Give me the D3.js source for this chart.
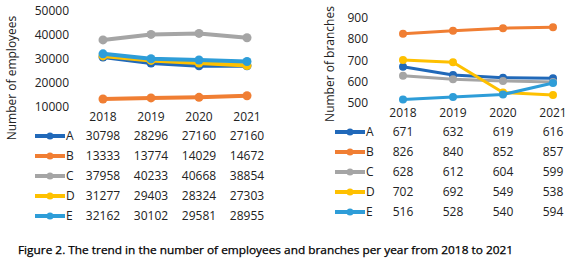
<!DOCTYPE html>
<html>
<head>
<meta charset="utf-8">
<script src="https://cdn.jsdelivr.net/npm/d3@7"></script>
<style>
  body { margin: 0; background: #fff; }
  text { font-family: "Open Sans", "Liberation Sans", sans-serif; fill: #222; }
</style>
</head>
<body>
<svg id="svg"></svg>
<script>
const years = ["2018", "2019", "2020", "2021"];
const seriesNames = ["A", "B", "C", "D", "E"];
const colors = ["#2169b9", "#f07e33", "#a5a5a5", "#fec000", "#2e9dd8"];

const employeesA = [30798, 28296, 27160, 27160];
const employeesB = [13333, 13774, 14029, 14672];
const employeesC = [37958, 40233, 40668, 38854];
const employeesD = [31277, 29403, 28324, 27303];
const employeesE = [32162, 30102, 29581, 28955];
const employeeTicks = [10000, 20000, 30000, 40000, 50000];

const branchesA = [671, 632, 619, 616];
const branchesB = [826, 840, 852, 857];
const branchesC = [628, 612, 604, 599];
const branchesD = [702, 692, 549, 538];
const branchesE = [516, 528, 540, 594];
const branchTicks = [500, 600, 700, 800, 900];

const caption = "Figure 2. The trend in the number of employees and branches per year from 2018 to 2021";

const employees = [employeesA, employeesB, employeesC, employeesD, employeesE];
const branches = [branchesA, branchesB, branchesC, branchesD, branchesE];

const svg = d3.select("#svg").attr("width", 580).attr("height", 265);

function drawPanel(cfg) {
  const g = svg.append("g");

  const x = d3.scalePoint().domain(years).range(cfg.xRange);
  const y = d3.scaleLinear().domain(cfg.yDomain).range(cfg.yRange);

  // y tick labels
  g.selectAll(".ytick")
    .data(cfg.ticks)
    .join("text")
    .attr("x", cfg.yLabelX)
    .attr("y", d => y(d))
    .attr("dy", "0.35em")
    .attr("text-anchor", "end")
    .attr("font-size", 12)
    .text(d => d);

  // year labels
  g.selectAll(".xtick")
    .data(years)
    .join("text")
    .attr("x", d => x(d))
    .attr("y", cfg.yearY)
    .attr("dy", "0.35em")
    .attr("text-anchor", "middle")
    .attr("font-size", 12)
    .text(d => d);

  // axis title
  g.append("text")
    .attr("transform", `translate(${cfg.titleX}, ${cfg.titleY}) rotate(-90)`)
    .attr("text-anchor", "middle")
    .attr("dy", "0.35em")
    .attr("font-size", 12)
    .text(cfg.title);

  const line = d3.line().x((d, i) => x(years[i])).y(d => y(d));

  cfg.data.forEach((vals, s) => {
    g.append("path")
      .datum(vals)
      .attr("d", line)
      .attr("fill", "none")
      .attr("stroke", colors[s])
      .attr("stroke-width", cfg.lineWidth)
      .attr("stroke-linejoin", "round");
    g.selectAll(".pt" + s)
      .data(vals)
      .join("circle")
      .attr("cx", (d, i) => x(years[i]))
      .attr("cy", d => y(d))
      .attr("r", cfg.markerR)
      .attr("fill", colors[s]);
  });

  // data table with legend keys
  cfg.data.forEach((vals, s) => {
    const rowY = cfg.tableY + s * 20;
    g.append("line")
      .attr("x1", cfg.keyX).attr("x2", cfg.keyX + 30)
      .attr("y1", rowY).attr("y2", rowY)
      .attr("stroke", colors[s]).attr("stroke-width", 4);
    g.append("circle")
      .attr("cx", cfg.keyX + 15).attr("cy", rowY).attr("r", 3.5)
      .attr("fill", colors[s]);
    g.append("text")
      .attr("x", cfg.keyX + 31).attr("y", rowY).attr("dy", "0.35em")
      .attr("font-size", 12)
      .text(seriesNames[s]);
    g.selectAll(".val" + s)
      .data(vals)
      .join("text")
      .attr("x", (d, i) => x(years[i]))
      .attr("y", rowY).attr("dy", "0.35em")
      .attr("text-anchor", "middle")
      .attr("font-size", 12)
      .text(d => d);
  });
}

drawPanel({
  data: employees, ticks: employeeTicks, title: "Number of employees",
  xRange: [103, 247], yDomain: [10000, 50000], yRange: [107, 11],
  yLabelX: 69, yearY: 117, titleX: 12, titleY: 78,
  tableY: 136, keyX: 35, lineWidth: 4, markerR: 4.5
});

drawPanel({
  data: branches, ticks: branchTicks, title: "Number of branches",
  xRange: [403, 553], yDomain: [500, 900], yRange: [103, 18],
  yLabelX: 368, yearY: 113, titleX: 330, titleY: 64,
  tableY: 132, keyX: 335, lineWidth: 3, markerR: 4
});

svg.append("text")
  .attr("x", 18).attr("y", 250).attr("dy", "0.35em")
  .attr("font-family", "DejaVu Sans")
  .attr("font-size", 10.5)
  .style("fill", "#000")
  .attr("stroke", "#000")
  .attr("stroke-width", 0.25)
  .attr("textLength", 495)
  .attr("lengthAdjust", "spacingAndGlyphs")
  .text(caption);
</script>
</body>
</html>
